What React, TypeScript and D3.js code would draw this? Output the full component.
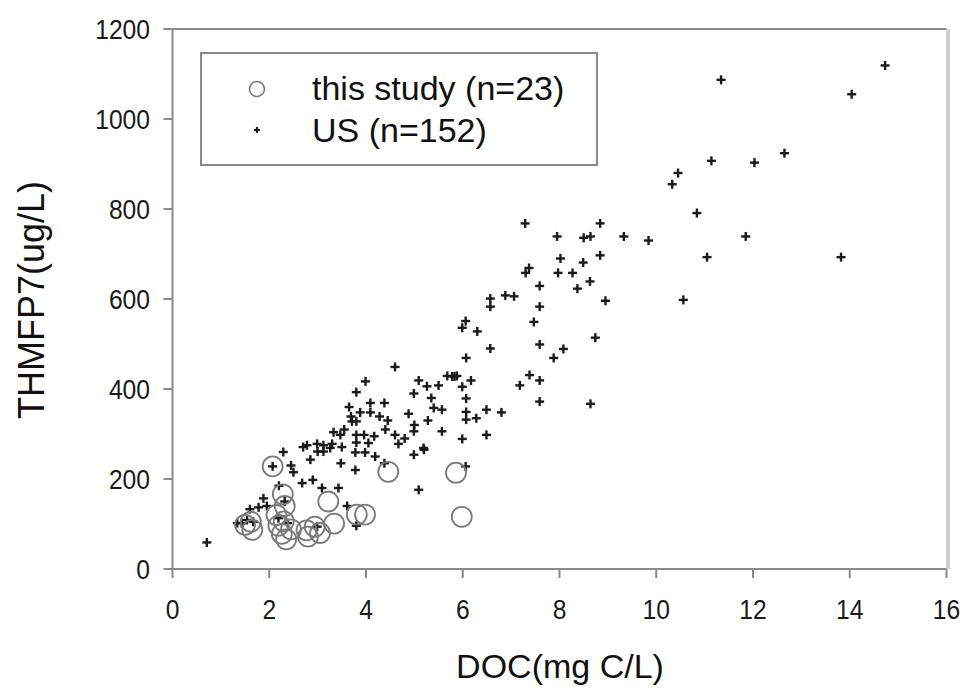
import React from "react";
import * as d3 from "d3";

const xTicks = [0, 2, 4, 6, 8, 10, 12, 14, 16];
const yTicks = [0, 200, 400, 600, 800, 1000, 1200];

const studyDOC = [2.07, 2.28, 2.32, 1.5, 1.65, 2.15, 2.19, 2.26, 2.35, 2.45, 2.77, 2.8, 2.94, 3.05, 3.34, 3.22, 3.81, 3.98, 4.46, 5.86, 5.98, 1.62, 2.3];
const studyTHM = [228, 166, 140, 98, 87, 120, 96, 78, 66, 88, 86, 72, 94, 80, 101, 150, 121, 121, 216, 214, 116, 105, 106];

const usDOC = [
  14.73, 11.34, 14.04, 11.14, 12.03, 12.65, 10.84, 11.85, 11.05, 13.82, 10.56, 10.45, 10.33,
  7.29, 8.84, 7.95, 8.5, 8.64, 9.33, 9.84, 8.84, 8.02, 8.49, 7.37, 7.3, 7.97, 8.27, 8.63, 8.37, 7.59, 8.95,
  6.88, 7.06, 6.57, 6.57, 7.59, 6.06, 5.99, 6.3, 7.47, 6.57, 7.59, 8.08, 8.74, 7.88, 6.07, 5.83, 6.17, 5.99,
  7.38, 7.59, 7.18, 7.59, 8.64, 6.07, 6.07, 6.07, 6.28, 6.49, 6.8, 6.49, 5.99,
  4.6, 5.68, 5.78, 5.88, 5.09, 5.26, 5.5, 4.99, 3.99, 3.8, 4.09, 4.38, 4.09, 3.88, 4.28, 3.69, 3.71, 3.8,
  4.88, 5.4, 5.57, 5.28, 4.4, 4.6, 4.99, 5.57, 3.33, 3.47, 3.8, 3.96, 4.17, 3.8, 4.67, 2.99, 3.3, 3.5, 2.7,
  3.26, 5.19, 3.12, 2.78, 3.0, 3.12, 3.78, 3.98, 4.19, 4.38, 4.99, 5.2, 2.29, 2.85, 3.48, 3.78, 2.07, 2.9,
  2.68, 3.09, 3.43, 5.09, 6.06, 1.88, 1.6, 1.78, 1.54, 1.67, 1.43, 1.34, 2.19, 2.38, 2.99, 3.61, 3.8, 0.71,
  2.32, 2.45, 3.55, 4.05, 4.45, 5.0, 2.5, 2.2, 1.95, 3.65, 4.8, 5.35
];
const usTHM = [
  1119, 1087, 1055, 907, 903, 924, 791, 739, 693, 693, 598, 880, 855,
  768, 768, 739, 736, 739, 739, 730, 697, 690, 681, 669, 658, 658, 658, 639, 623, 629, 596,
  608, 606, 601, 583, 583, 551, 536, 528, 549, 490, 499, 489, 514, 469, 469, 428, 419, 405,
  431, 419, 408, 372, 367, 379, 349, 332, 335, 354, 348, 298, 289,
  449, 429, 428, 429, 419, 406, 408, 390, 417, 393, 369, 369, 348, 348, 339, 339, 328, 328,
  345, 358, 354, 330, 310, 298, 306, 306, 304, 298, 298, 298, 295, 281, 278, 278, 278, 271, 271,
  269, 269, 275, 275, 261, 261, 259, 259, 250, 235, 254, 265, 260, 243, 235, 220, 228, 198,
  191, 180, 180, 176, 228, 157, 133, 137, 109, 105, 102, 102, 113, 102, 94, 140, 96, 59,
  150, 230, 310, 280, 330, 320, 215, 185, 140, 360, 290, 380
];

export default function App() {
  const W = 968, H = 691;
  const x = d3.scaleLinear().domain([0, 16]).range([172.5, 946.5]);
  const y = d3.scaleLinear().domain([0, 1200]).range([569, 29]);
  const font = "'Liberation Sans', Arial, sans-serif";
  const axisColor = "#8a8a8a";
  const plus = 4.5;

  return (
    <svg width={W} height={H} style={{ position: "absolute", left: 0, top: 0, background: "#fff" }}>
      <rect x={0} y={0} width={W} height={H} fill="#fff" />
      {/* plot frame */}
      <line x1={x(0)} x2={x(16)} y1={y(1200)} y2={y(1200)} stroke={axisColor} strokeWidth={2} />
      <line x1={x(16) + 1.5} x2={x(16) + 1.5} y1={y(1200)} y2={y(0)} stroke="#cfcfcf" strokeWidth={4} />
      {/* axes */}
      <line x1={x(0)} x2={x(16)} y1={y(0)} y2={y(0)} stroke={axisColor} strokeWidth={2} />
      <line x1={x(0)} x2={x(0)} y1={y(0)} y2={y(1200)} stroke={axisColor} strokeWidth={2} />
      {xTicks.map((t) => (
        <g key={"xt" + t}>
          <line x1={x(t)} x2={x(t)} y1={y(0)} y2={y(0) + 9} stroke={axisColor} strokeWidth={2} />
          <text transform={`translate(${x(t)},619) scale(0.88,1)`} textAnchor="middle" fontFamily={font} fontSize={28} fill="#1a1a1a">{t}</text>
        </g>
      ))}
      {yTicks.map((t) => (
        <g key={"yt" + t}>
          <line x1={x(0) - 9} x2={x(0)} y1={y(t)} y2={y(t)} stroke={axisColor} strokeWidth={2} />
          <text transform={`translate(150,${y(t) + 10}) scale(0.88,1)`} textAnchor="end" fontFamily={font} fontSize={28} fill="#1a1a1a">{t}</text>
        </g>
      ))}
      <text x={560} y={678} textAnchor="middle" fontFamily={font} fontSize={34} fill="#111">DOC(mg C/L)</text>
      <text transform={`translate(44,300) rotate(-90)`} textAnchor="middle" fontFamily={font} fontSize={36} fill="#111">THMFP7(ug/L)</text>

      {/* US points */}
      {usDOC.map((d, i) => (
        <g key={"us" + i} stroke="#1a1a1a" strokeWidth={2.4}>
          <line x1={x(d) - plus} x2={x(d) + plus} y1={y(usTHM[i])} y2={y(usTHM[i])} />
          <line x1={x(d)} x2={x(d)} y1={y(usTHM[i]) - plus} y2={y(usTHM[i]) + plus} />
        </g>
      ))}
      {/* this study */}
      {studyDOC.map((d, i) => (
        <circle key={"st" + i} cx={x(d)} cy={y(studyTHM[i])} r={10} fill="none" stroke="#7a7a7a" strokeWidth={1.8} />
      ))}

      {/* legend */}
      <rect x={201} y={53} width={396} height={112} fill="#fff" stroke={axisColor} strokeWidth={2} />
      <circle cx={257} cy={89} r={7.5} fill="none" stroke="#7a7a7a" strokeWidth={1.6} />
      <text x={312} y={100} fontFamily={font} fontSize={34} fill="#111">this study (n=23)</text>
      <g stroke="#1a1a1a" strokeWidth={2.2}>
        <line x1={257 - 3} x2={257 + 3} y1={130} y2={130} />
        <line x1={257} x2={257} y1={127} y2={133} />
      </g>
      <text x={312} y={142} fontFamily={font} fontSize={34} fill="#111">US (n=152)</text>
    </svg>
  );
}
